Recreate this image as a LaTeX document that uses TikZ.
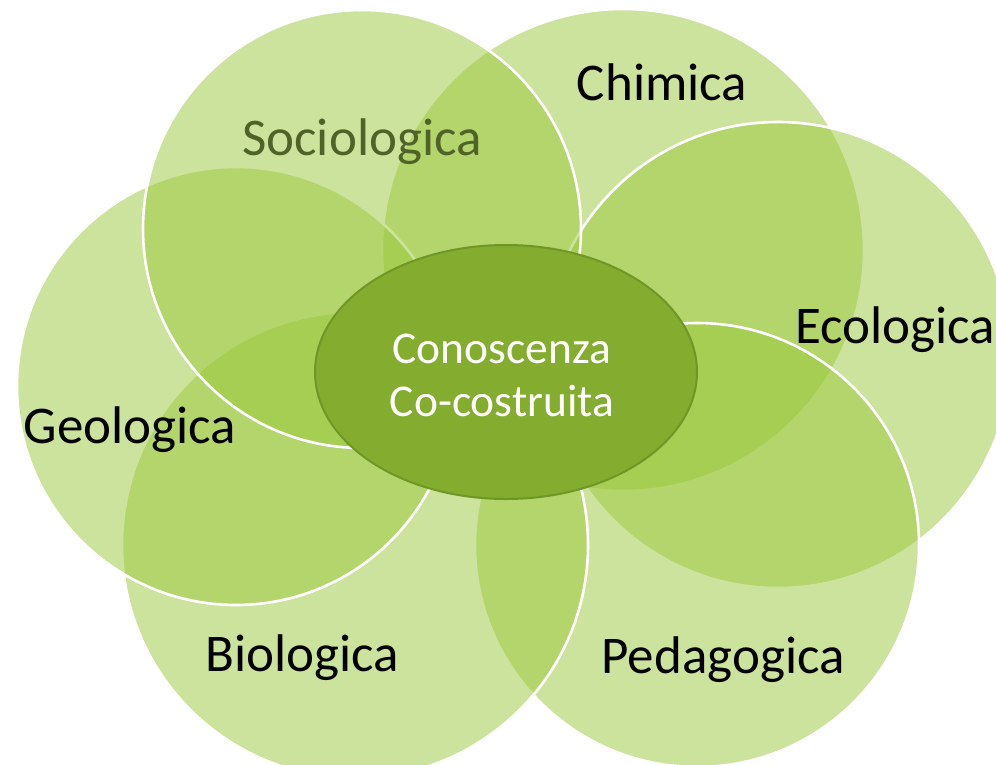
\documentclass[tikz,border=0pt]{standalone}
\usepackage{fontspec}
\setmainfont{Carlito}
\usepackage{tikz}
\usetikzlibrary{positioning,shapes.geometric}

\definecolor{petalgreen}{RGB}{155,200,60}
\definecolor{coregreen}{RGB}{132,172,47}
\definecolor{coreedge}{RGB}{112,150,38}
\definecolor{olivetext}{RGB}{79,98,40}

\begin{document}
\begin{tikzpicture}[
    x=1pt, y=-1pt,
    every node/.style={inner sep=0pt},
    petal/.style={circle, fill=petalgreen, fill opacity=0.5, draw=white, draw opacity=1, line width=2.6pt},
    core/.style={ellipse, fill=coregreen, draw=coreedge, line width=2pt, minimum width=382pt, minimum height=254pt},
    lbl/.style={font=\fontsize{53}{63}\selectfont, anchor=base},
    corelbl/.style={font=\fontsize{45.5}{53}\selectfont, text=white, align=center}
]
\useasboundingbox (0,0) rectangle (996,764);
\fill[white] (0,0) rectangle (996,764);

% outer petals, back to front
\node[petal, minimum size=482pt] (chim) at (623,250) {};
\node[petal, minimum size=466pt] (eco)  at (778,355) {};
\node[petal, minimum size=444pt] (ped)  at (697,545) {};
\node[petal, minimum size=466pt] (bio)  at (355,545) {};
\node[petal, minimum size=438pt] (geo)  at (236,386) {};
\node[petal, minimum size=438pt] (soc)  at (362,229) {};

% centre
\node[core] (know) at (506,372) {};
\node[corelbl] (knowtext) at (502,375) {Conoscenza\\Co-costruita};

% petal labels
\node[lbl, text=olivetext] (socL) at (362,155) {Sociologica};
\node[lbl] (chimL) at (662,100) {Chimica};
\node[lbl, anchor=base east] (ecoL) at (995,343) {Ecologica};
\node[lbl] (geoL) at (130,443) {Geologica};
\node[lbl] (bioL) at (302,671) {Biologica};
\node[lbl] (pedL) at (723,673) {Pedagogica};
\end{tikzpicture}
\end{document}
